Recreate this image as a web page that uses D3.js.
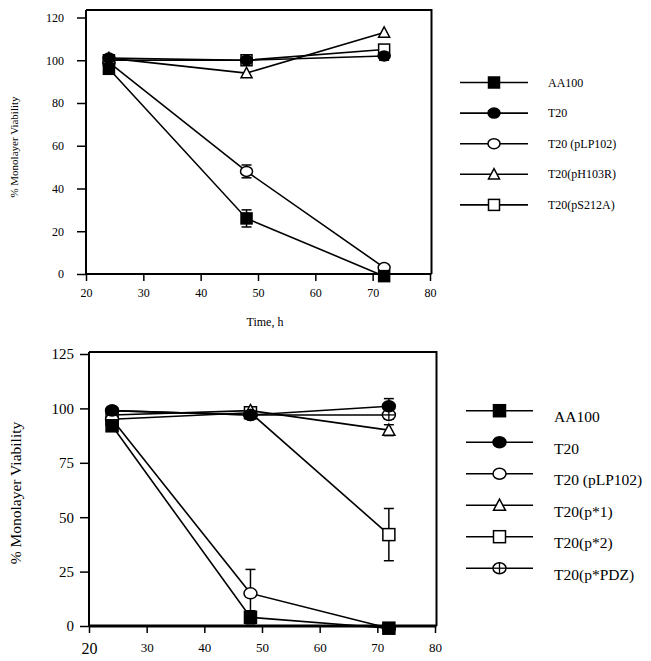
<!DOCTYPE html>
<html><head><meta charset="utf-8">
<script src="https://cdn.jsdelivr.net/npm/d3@7"></script>
<style>body{margin:0;background:#fff}svg{display:block}text{font-family:"Liberation Serif","Times New Roman",serif;fill:#000}</style>
</head><body><svg id="c" width="651" height="661"></svg>
<script>
// ---- data ----
const times = [24, 48, 72];

// Panel A
const topNames = ["AA100", "T20", "T20 (pLP102)", "T20(pH103R)", "T20(pS212A)"];
const topAA100 = [96, 26, -1];
const topT20 = [101, 100, 102];
const topPLP102 = [99, 48, 3];
const topPH103R = [101, 94, 113];
const topPS212A = [100, 100, 105];
const topErrAA100 = [0, 4, 0];
const topErrT20 = [0, 0, 2];
const topErrPLP102 = [0, 3, 0];
const topErrPH103R = [0, 0, 0];
const topErrPS212A = [0, 0, 0];
const topYTicks = [0, 20, 40, 60, 80, 100, 120];
const topXTicks = [20, 30, 40, 50, 60, 70, 80];

// Panel B
const botNames = ["AA100", "T20", "T20 (pLP102)", "T20(p*1)", "T20(p*2)", "T20(p*PDZ)"];
const botAA100 = [92, 4, -1];
const botT20 = [99, 97, 101];
const botPLP102 = [95, 15, -1];
const botP1 = [97, 99, 90];
const botP2 = [95, 98, 42];
const botPDZ = [99, 97, 97];
const botErrAA100 = [0, 3, 0];
const botErrT20 = [0, 0, 3.5];
const botErrPLP102 = [0, 11, 0];
const botErrP1 = [0, 0, 2.5];
const botErrP2 = [0, 0, 12];
const botErrPDZ = [0, 0, 2];
const botYTicks = [0, 25, 50, 75, 100, 125];
const botXTicks = [20, 30, 40, 50, 60, 70, 80];

// ---- drawing ----
const svg = d3.select("#c");

function marker(g, shape, cx, cy, s) {
  const sw = 1.5;
  if (shape === "fsq" || shape === "osq") {
    g.append("rect").attr("x", cx - s / 2).attr("y", cy - s / 2).attr("width", s).attr("height", s)
      .attr("fill", shape === "fsq" ? "#000" : "#fff").attr("stroke", "#000").attr("stroke-width", sw);
  } else if (shape === "fci" || shape === "oci" || shape === "xci") {
    g.append("ellipse").attr("cx", cx).attr("cy", cy).attr("rx", s / 2 + 0.5).attr("ry", s / 2 - 0.5)
      .attr("fill", shape === "fci" ? "#000" : "#fff").attr("stroke", "#000").attr("stroke-width", sw);
    if (shape === "xci") {
      g.append("line").attr("x1", cx - s / 2).attr("x2", cx + s / 2).attr("y1", cy).attr("y2", cy).attr("stroke", "#000").attr("stroke-width", 1.3);
      g.append("line").attr("x1", cx).attr("x2", cx).attr("y1", cy - s / 2 + 0.5).attr("y2", cy + s / 2 - 0.5).attr("stroke", "#000").attr("stroke-width", 1.3);
    }
  } else if (shape === "otr") {
    const h = s * 0.85;
    g.append("path").attr("d", `M${cx},${cy - h / 2 - 1}L${cx + s / 2},${cy + h / 2}L${cx - s / 2},${cy + h / 2}Z`)
      .attr("fill", "#fff").attr("stroke", "#000").attr("stroke-width", sw).attr("stroke-linejoin", "miter");
  }
}

function panel(cfg) {
  const x = d3.scaleLinear().domain([20, 80]).range(cfg.xr);
  const y = d3.scaleLinear().domain([0, cfg.ymax]).range(cfg.yr);
  const g = svg.append("g");
  // frame
  g.append("path").attr("d", `M${x(20)},${cfg.frameTop}H${x(80) + 1.5}V${y(0)}`)
    .attr("fill", "none").attr("stroke", "#000").attr("stroke-width", 2);
  // y axis
  const ya = d3.axisLeft(y).tickValues(cfg.yTicks).tickSize(9).tickPadding(cfg.yPad).tickFormat(d3.format("d"));
  const yg = g.append("g").attr("transform", `translate(${x(20)},0)`).call(ya);
  yg.select(".domain").attr("d", `M0,${cfg.frameTop}V${y(0)}`).attr("stroke-width", 2);
  yg.selectAll(".tick line").attr("stroke-width", 1.5);
  yg.selectAll(".tick text").style("font-size", cfg.yFont + "px");
  // x axis
  const xa = d3.axisBottom(x).tickValues(cfg.xTicks).tickSize(7).tickPadding(cfg.xPad).tickFormat(d3.format("d"));
  const xg = g.append("g").attr("transform", `translate(0,${y(0)})`).call(xa);
  xg.select(".domain").attr("d", `M${x(20)},0H${x(80) + 1.5}`).attr("stroke-width", cfg.xAxisW);
  xg.selectAll(".tick line").attr("stroke-width", 1.5);
  xg.selectAll(".tick text").style("font-size", d => (d === 20 ? cfg.x20Font : cfg.xFont) + "px");
  // titles
  g.append("text").attr("transform", `translate(${cfg.ylabX},${cfg.ylabY}) rotate(-90)`)
    .attr("text-anchor", "middle").attr("dominant-baseline", "central").style("font-size", cfg.ylabFont + "px")
    .text("% Monolayer Viability");
  if (cfg.xlab) {
    g.append("text").attr("x", cfg.xlabX).attr("y", cfg.xlabY).attr("text-anchor", "middle")
      .attr("dominant-baseline", "central").style("font-size", "12px").text(cfg.xlab);
  }
  const line = d3.line().x((d, i) => x(times[i])).y(d => y(d));
  // lines
  cfg.series.forEach(s => {
    g.append("path").datum(s.v).attr("d", line).attr("fill", "none").attr("stroke", "#000").attr("stroke-width", 1.6);
  });
  // error bars
  cfg.series.forEach(s => {
    s.e.forEach((e, i) => {
      if (!e) return;
      const cx = x(times[i]), y1 = y(s.v[i] + e), y2 = y(s.v[i] - e);
      g.append("line").attr("x1", cx).attr("x2", cx).attr("y1", y1).attr("y2", y2).attr("stroke", "#000").attr("stroke-width", 1.5);
      [y1, y2].forEach(yy => g.append("line").attr("x1", cx - 5).attr("x2", cx + 5).attr("y1", yy).attr("y2", yy).attr("stroke", "#000").attr("stroke-width", 1.5));
    });
  });
  // markers
  cfg.drawOrder.forEach(k => {
    const s = cfg.series[k];
    s.v.forEach((v, i) => marker(g, s.shape, x(times[i]), y(v), cfg.ms));
  });
  // legend
  cfg.series.forEach((s, k) => {
    const ly = cfg.legY0 + k * cfg.legDy;
    g.append("line").attr("x1", cfg.legX1).attr("x2", cfg.legX2).attr("y1", ly).attr("y2", ly).attr("stroke", "#000").attr("stroke-width", 1.6);
    marker(g, s.shape, (cfg.legX1 + cfg.legX2) / 2, ly, cfg.legMs);
    g.append("text").attr("x", cfg.legTX).attr("y", ly + cfg.legTdy).attr("dominant-baseline", "central")
      .style("font-size", cfg.legFont + "px").text(s.name);
  });
}

panel({
  xr: [86, 430], yr: [274, 17.5], ymax: 120, frameTop: 10,
  yTicks: topYTicks, xTicks: topXTicks, yPad: 13, xPad: 7, yFont: 12, xFont: 12, x20Font: 12, xAxisW: 2,
  ylabX: 14, ylabY: 147, ylabFont: 11, xlab: "Time, h", xlabX: 265, xlabY: 322, ms: 11,
  series: [
    {name: topNames[0], v: topAA100, e: topErrAA100, shape: "fsq"},
    {name: topNames[1], v: topT20, e: topErrT20, shape: "fci"},
    {name: topNames[2], v: topPLP102, e: topErrPLP102, shape: "oci"},
    {name: topNames[3], v: topPH103R, e: topErrPH103R, shape: "otr"},
    {name: topNames[4], v: topPS212A, e: topErrPS212A, shape: "osq"}
  ],
  drawOrder: [4, 3, 2, 0, 1],
  legY0: 82.5, legDy: 30.6, legX1: 460, legX2: 528, legTX: 548, legTdy: 0, legFont: 12, legMs: 11
});

panel({
  xr: [89, 435], yr: [626, 354], ymax: 125, frameTop: 352,
  yTicks: botYTicks, xTicks: botXTicks, yPad: 6, xPad: 10, yFont: 15, xFont: 13, x20Font: 16, xAxisW: 3,
  ylabX: 15, ylabY: 493, ylabFont: 15.5, xlab: null, ms: 12,
  series: [
    {name: botNames[0], v: botAA100, e: botErrAA100, shape: "fsq"},
    {name: botNames[1], v: botT20, e: botErrT20, shape: "fci"},
    {name: botNames[2], v: botPLP102, e: botErrPLP102, shape: "oci"},
    {name: botNames[3], v: botP1, e: botErrP1, shape: "otr"},
    {name: botNames[4], v: botP2, e: botErrP2, shape: "osq"},
    {name: botNames[5], v: botPDZ, e: botErrPDZ, shape: "xci"}
  ],
  drawOrder: [4, 3, 5, 2, 1, 0],
  legY0: 410.7, legDy: 31.5, legX1: 466, legX2: 533, legTX: 554, legTdy: 6, legFont: 15.5, legMs: 12
});
</script></body></html>
